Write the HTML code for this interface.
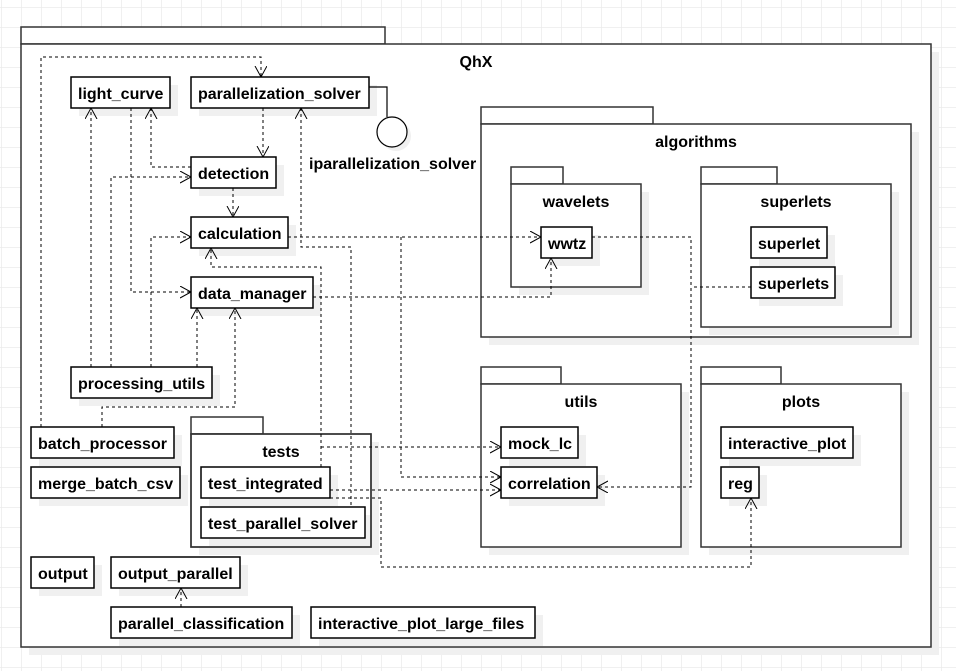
<!DOCTYPE html>
<html><head><meta charset="utf-8"><style>
html,body{margin:0;padding:0;background:#fff}
svg{display:block}
text{font-family:"Liberation Sans",Arial,sans-serif;font-weight:bold;font-size:16px;fill:#000}
</style></head><body>
<svg width="956" height="671" viewBox="0 0 956 671" xmlns="http://www.w3.org/2000/svg">
<defs>
<pattern id="g" x="1" y="7" width="20" height="20" patternUnits="userSpaceOnUse">
<path d="M0 0H20M0 0V20" stroke="#ebebeb" stroke-width="1.5" fill="none"/>
</pattern>
<marker id="a" markerWidth="14" markerHeight="14" refX="11" refY="6" orient="auto" markerUnits="userSpaceOnUse">
<path d="M0 0L11 6L0 12" fill="none" stroke="#000" stroke-width="1"/>
</marker>
</defs>
<rect width="956" height="671" fill="url(#g)"/>

<rect x="29" y="52" width="910" height="603" fill="#f0f0f0"/>
<rect x="21" y="27" width="364" height="17" fill="#fff" stroke="#333" stroke-width="1.5"/>
<rect x="21" y="44" width="910" height="603" fill="#fff" stroke="#333" stroke-width="1.5"/>
<text x="476" y="67" text-anchor="middle">QhX</text>

<g fill="#f0f0f0">
<rect x="489" y="132" width="430" height="213"/>
<rect x="489" y="392" width="200" height="163"/>
<rect x="709" y="392" width="200" height="163"/>
<rect x="199" y="442" width="180" height="113"/>
</g>
<g fill="#fff" stroke="#333" stroke-width="1.5">
<rect x="481" y="107" width="172" height="17"/>
<rect x="481" y="124" width="430" height="213"/>
<rect x="481" y="367" width="80" height="17"/>
<rect x="481" y="384" width="200" height="163"/>
<rect x="701" y="367" width="80" height="17"/>
<rect x="701" y="384" width="200" height="163"/>
<rect x="191" y="417" width="72" height="17"/>
<rect x="191" y="434" width="180" height="113"/>
</g>
<g fill="#f0f0f0">
<rect x="519" y="192" width="130" height="103"/>
<rect x="709" y="192" width="190" height="143"/>
</g>
<g fill="#fff" stroke="#333" stroke-width="1.5">
<rect x="511" y="167" width="52" height="17"/>
<rect x="511" y="184" width="130" height="103"/>
<rect x="701" y="167" width="76" height="17"/>
<rect x="701" y="184" width="190" height="143"/>
</g>
<text x="696" y="147" text-anchor="middle">algorithms</text>
<text x="576" y="207" text-anchor="middle">wavelets</text>
<text x="796" y="207" text-anchor="middle">superlets</text>
<text x="581" y="407" text-anchor="middle">utils</text>
<text x="801" y="407" text-anchor="middle">plots</text>
<text x="281" y="457" text-anchor="middle">tests</text>

<g fill="#f0f0f0">
<rect x="79" y="85" width="99" height="31"/>
<rect x="199" y="85" width="178" height="31"/>
<rect x="199" y="165" width="85" height="31"/>
<rect x="199" y="225" width="97" height="31"/>
<rect x="199" y="285" width="122" height="31"/>
<rect x="79" y="375" width="141" height="31"/>
<rect x="39" y="435" width="143" height="31"/>
<rect x="39" y="475" width="149" height="31"/>
<rect x="209" y="475" width="129" height="31"/>
<rect x="209" y="515" width="161" height="31"/>
<rect x="39" y="565" width="63" height="31"/>
<rect x="119" y="565" width="129" height="31"/>
<rect x="119" y="615" width="181" height="31"/>
<rect x="319" y="615" width="224" height="31"/>
<rect x="549" y="235" width="51" height="31"/>
<rect x="759" y="235" width="76" height="31"/>
<rect x="759" y="275" width="84" height="31"/>
<rect x="509" y="435" width="77" height="31"/>
<rect x="509" y="475" width="96" height="31"/>
<rect x="729" y="435" width="132" height="31"/>
<rect x="729" y="475" width="38" height="31"/>
<circle cx="396" cy="136" r="15"/>
</g>
<rect x="191" y="434" width="180" height="113" fill="none" stroke="#333" stroke-width="1.5"/>

<g fill="none" stroke="#000" stroke-width="1" stroke-dasharray="3,3">
<path d="M41 427V57H261V77" marker-end="url(#a)"/>
<path d="M91 367V108" marker-end="url(#a)"/>
<path d="M131 108V292H191" marker-end="url(#a)"/>
<path d="M191 167H151V108" marker-end="url(#a)"/>
<path d="M111 367V177H191" marker-end="url(#a)"/>
<path d="M263 108V157" marker-end="url(#a)"/>
<path d="M233 188V217" marker-end="url(#a)"/>
<path d="M151 367V237H191" marker-end="url(#a)"/>
<path d="M321 467V267H211V248" marker-end="url(#a)"/>
<path d="M351 505V247H301V108" marker-end="url(#a)"/>
<path d="M197 367V308" marker-end="url(#a)"/>
<path d="M102 427V407H235V308" marker-end="url(#a)"/>
<path d="M288 237H541" marker-end="url(#a)"/>
<path d="M401 237V477H501" marker-end="url(#a)"/>
<path d="M313 297H551V258" marker-end="url(#a)"/>
<path d="M321 447H501" marker-end="url(#a)"/>
<path d="M330 490H501" marker-end="url(#a)"/>
<path d="M330 498H381V567H751V498" marker-end="url(#a)"/>
<path d="M592 237H691V487H597" marker-end="url(#a)"/>
<path d="M751 287H691"/>
<path d="M181 607V588" marker-end="url(#a)"/>
</g>

<path d="M369 87H387V117" fill="none" stroke="#000" stroke-width="1.2"/>
<circle cx="392" cy="132" r="15" fill="#fff" stroke="#000" stroke-width="1.2"/>
<text x="309" y="169">iparallelization_solver</text>

<g fill="#fff" stroke="#000" stroke-width="1.5">
<rect x="71" y="77" width="99" height="31"/>
<rect x="191" y="77" width="178" height="31"/>
<rect x="191" y="157" width="85" height="31"/>
<rect x="191" y="217" width="97" height="31"/>
<rect x="191" y="277" width="122" height="31"/>
<rect x="71" y="367" width="141" height="31"/>
<rect x="31" y="427" width="143" height="31"/>
<rect x="31" y="467" width="149" height="31"/>
<rect x="201" y="467" width="129" height="31"/>
<rect x="201" y="507" width="164" height="31"/>
<rect x="31" y="557" width="63" height="31"/>
<rect x="111" y="557" width="129" height="31"/>
<rect x="111" y="607" width="181" height="31"/>
<rect x="311" y="607" width="224" height="31"/>
<rect x="541" y="227" width="51" height="31"/>
<rect x="751" y="227" width="76" height="31"/>
<rect x="751" y="267" width="84" height="31"/>
<rect x="501" y="427" width="77" height="31"/>
<rect x="501" y="467" width="96" height="31"/>
<rect x="721" y="427" width="132" height="31"/>
<rect x="721" y="467" width="38" height="31"/>
</g>
<g>
<text x="78" y="99">light_curve</text>
<text x="198" y="99">parallelization_solver</text>
<text x="198" y="179">detection</text>
<text x="198" y="239">calculation</text>
<text x="198" y="299">data_manager</text>
<text x="78" y="389">processing_utils</text>
<text x="38" y="449">batch_processor</text>
<text x="38" y="489">merge_batch_csv</text>
<text x="208" y="489">test_integrated</text>
<text x="208" y="529">test_parallel_solver</text>
<text x="38" y="579">output</text>
<text x="118" y="579">output_parallel</text>
<text x="118" y="629">parallel_classification</text>
<text x="318" y="629">interactive_plot_large_files</text>
<text x="548" y="249">wwtz</text>
<text x="758" y="249">superlet</text>
<text x="758" y="289">superlets</text>
<text x="508" y="449">mock_lc</text>
<text x="508" y="489">correlation</text>
<text x="728" y="449">interactive_plot</text>
<text x="728" y="489">reg</text>
</g>
</svg>
</body></html>
